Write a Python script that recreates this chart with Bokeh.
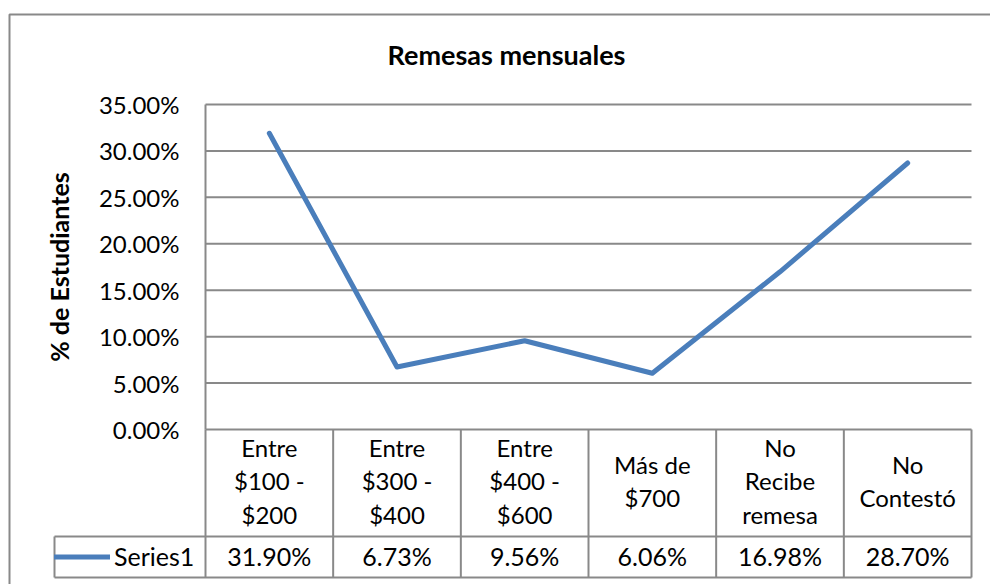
from bokeh.plotting import figure
from bokeh.models import (LinearAxis, FixedTicker, NumeralTickFormatter, Range1d,
                          Legend, LegendItem)
from bokeh.core.properties import value
from bokeh.embed import file_html
from bokeh.resources import INLINE

# ---------------- data ----------------
TITLE = "Remesas mensuales"
Y_LABEL = "% de Estudiantes"
SERIES = "Series1"
categories = ["Entre\n$100 -\n$200", "Entre\n$300 -\n$400", "Entre\n$400 -\n$600",
              "Más de\n$700", "No\nRecibe\nremesa", "No\nContestó"]
values = [0.3190, 0.0673, 0.0956, 0.0606, 0.1698, 0.2870]
y_ticks = [0.0, 0.05, 0.10, 0.15, 0.20, 0.25, 0.30, 0.35]
Y_MAX = 0.35

# ---------------- layout (page pixels) ----------------
FONT = "Lato"
GRID = "#898989"
BLUE = "#4A7EBB"
W, H = 990, 584
M = 0                      # observed page offset
PL, PR, PT, PB = 205, 971, 104, 429   # plot area
ROW1, ROW2 = 536, 577      # table row bottoms
LEG_L = 54                 # legend cell left

n = len(categories)
col_w = (PR - PL) / n
x_start = -0.5 - (PL - M) / col_w
x_end = n - 0.5 + (M + W - PR) / col_w
ppy = (PB - PT) / Y_MAX
y_end = (PB - M) / ppy
y_start = -(M + H - PB) / ppy


def px2x(px):
    return x_start + (px - M) / col_w


def py2y(py):
    return (PB - py) / ppy


p = figure(width=W, height=H, x_range=Range1d(x_start, x_end), y_range=Range1d(y_start, y_end),
           x_axis_type=None, y_axis_type=None, toolbar_location=None, output_backend="svg",
           min_border=0, outline_line_color=None, background_fill_color="white",
           border_fill_color="white")

# chart border (left/top visible)
p.quad(left=[px2x(9)], right=[x_end + 5], top=[py2y(14)], bottom=[y_start - 5],
       fill_color=None, line_color=GRID, line_width=2)

xs = list(range(n))
left_edge = -0.5
right_edge = n - 0.5

# horizontal gridlines
p.segment(x0=[left_edge] * len(y_ticks), x1=[right_edge] * len(y_ticks),
          y0=y_ticks, y1=y_ticks, line_color=GRID, line_width=2)

# table lines
r1, r2 = py2y(ROW1), py2y(ROW2)
p.segment(x0=[px2x(LEG_L)] * 2, x1=[right_edge] * 2, y0=[r1, r2], y1=[r1, r2],
          line_color=GRID, line_width=2)
bounds_x = [left_edge + k for k in range(n + 1)]
p.segment(x0=bounds_x, x1=bounds_x, y0=[r2] * (n + 1), y1=[0] * (n + 1),
          line_color=GRID, line_width=2)
p.segment(x0=[px2x(LEG_L)], x1=[px2x(LEG_L)], y0=[r2], y1=[r1],
          line_color=GRID, line_width=2)

# series line
line_r = p.line(xs, values, line_color=BLUE, line_width=5, line_cap="round", line_join="round")

# header texts
p.text(x=xs, y=[py2y((PB + ROW1) / 2 - 2)] * n, text=categories, text_font=value(FONT),
       text_font_size="24px", text_align="center", text_baseline="middle",
       text_line_height=1.17, text_color="black")
# value texts
p.text(x=xs, y=[py2y((ROW1 + ROW2) / 2 - 1)] * n, text=[f"{v * 100:.2f}%" for v in values],
       text_font=value(FONT), text_font_size="25px", text_align="center",
       text_baseline="middle", text_color="black")

# title
p.text(x=[px2x(506)], y=[py2y(54)], text=[TITLE], text_font=value(FONT),
       text_font_size="27px", text_font_style="bold", text_align="center",
       text_baseline="middle", text_color="black")

# y axis
yaxis = LinearAxis(fixed_location=left_edge, bounds=(0, Y_MAX),
                   ticker=FixedTicker(ticks=y_ticks),
                   formatter=NumeralTickFormatter(format="0.00%"),
                   axis_label=Y_LABEL)
yaxis.axis_line_color = GRID
yaxis.axis_line_width = 2
yaxis.major_tick_out = 0
yaxis.major_tick_in = 0
yaxis.minor_tick_out = 0
yaxis.minor_tick_in = 0
yaxis.major_label_standoff = 26
yaxis.major_label_text_font = FONT
yaxis.major_label_text_font_size = "24px"
yaxis.major_label_text_color = "black"
yaxis.axis_label_text_font = FONT
yaxis.axis_label_text_font_size = "25px"
yaxis.axis_label_text_font_style = "bold"
yaxis.axis_label_text_color = "black"
yaxis.axis_label_standoff = 22
p.add_layout(yaxis, "left")

# legend in the table's first cell
legend = Legend(items=[LegendItem(label=SERIES, renderers=[line_r])],
                location=(LEG_L - M, M + H - ROW2 + 6))
legend.padding = 6
legend.spacing = 0
legend.margin = 0
legend.glyph_width = 56
legend.glyph_height = 27
legend.label_standoff = 4
legend.label_height = 27
legend.label_text_font = FONT
legend.label_text_font_size = "25px"
legend.label_text_color = "black"
legend.border_line_color = None
legend.background_fill_alpha = 0
p.add_layout(legend)

open("out.html", "w").write(file_html(p, INLINE))
